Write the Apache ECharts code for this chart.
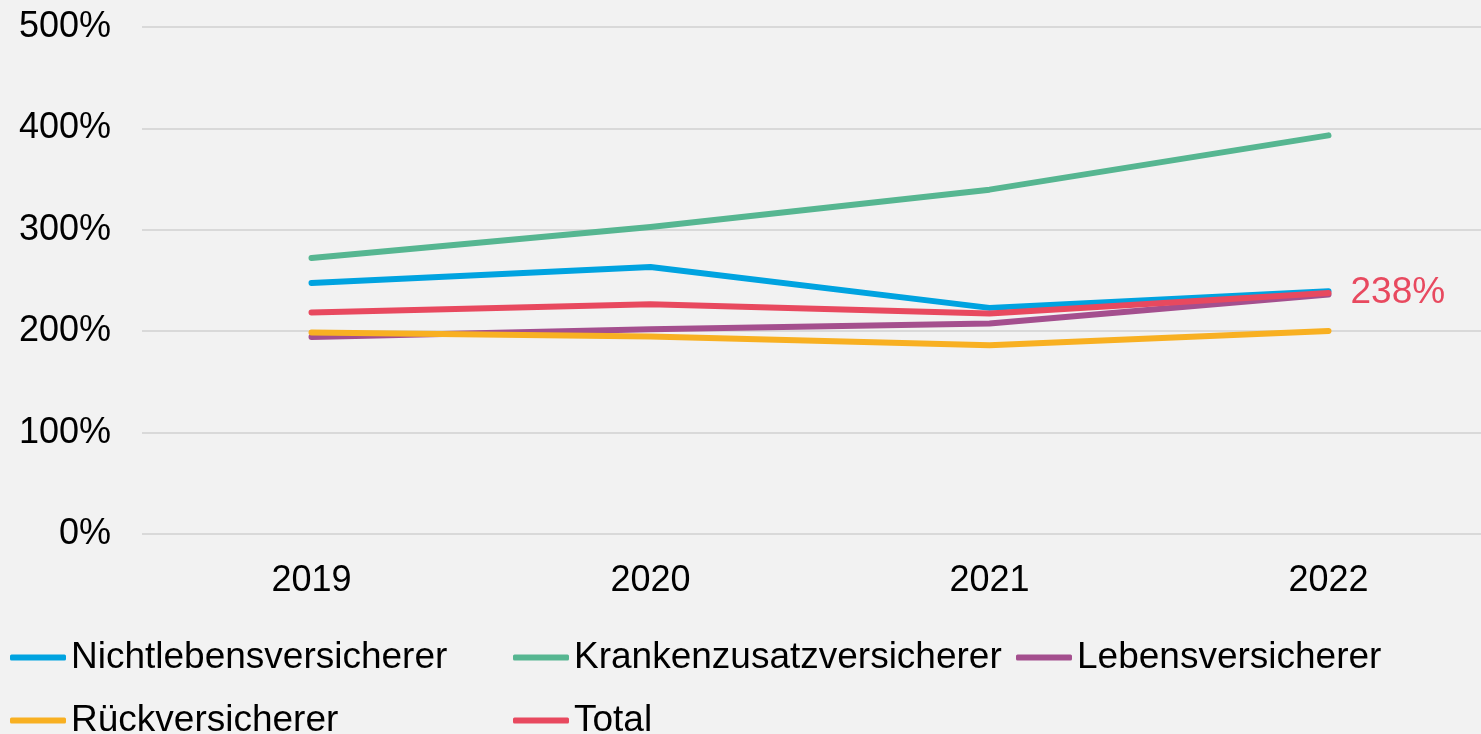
<!DOCTYPE html>
<html>
<head>
<meta charset="utf-8">
<script src="https://cdn.jsdelivr.net/npm/echarts@6/dist/echarts.min.js"></script>
<style>
  html, body { margin: 0; padding: 0; background: #f2f2f2; }
  #main { width: 1481px; height: 734px; }
</style>
</head>
<body>
<div id="main"></div>
<script>
var years = ['2019', '2020', '2021', '2022'];
var nichtleben = [247.6, 263.3, 223.0, 239.4];
var kranken = [272.2, 302.8, 339.6, 393.1];
var leben = [194.4, 202.0, 207.6, 236.2];
var rueck = [198.7, 194.8, 186.2, 200.3];
var total = [218.4, 226.6, 217.4, 237.7];

var names = ['Nichtlebensversicherer', 'Krankenzusatzversicherer', 'Lebensversicherer', 'Rückversicherer', 'Total'];
var colors = ['#00a3e0', '#56b691', '#a44f8e', '#f8b022', '#e8495f'];
var values = [nichtleben, kranken, leben, rueck, total];

var font = '"Liberation Sans", Arial, sans-serif';

var dom = document.getElementById('main');
var chart = echarts.init(dom);

// legend placed like the original: three fixed columns, two rows
var legendPos = [[10, 639], [513, 639], [1016, 639], [10, 702], [513, 702]];
var legends = names.map(function (n, i) {
    return {
        data: [n],
        left: legendPos[i][0],
        top: legendPos[i][1],
        icon: 'roundRect',
        itemWidth: 56,
        itemHeight: 6,
        padding: 0,
        textStyle: { fontFamily: font, fontSize: 37, color: '#000' }
    };
});

var series = names.map(function (n, i) {
    var s = {
        name: n,
        type: 'line',
        data: values[i],
        symbol: 'none',
        color: colors[i],
        lineStyle: { width: 6, color: colors[i], cap: 'round', join: 'round' }
    };
    if (n === 'Total') {
        s.endLabel = {
            show: true,
            distance: 22,
            color: colors[i],
            fontFamily: font,
            fontSize: 37,
            formatter: function (p) { return Math.round(p.value) + '%'; }
        };
    }
    return s;
});

var option = {
    backgroundColor: '#f2f2f2',
    animation: false,
    // plot area runs past the right edge, like the cropped original
    grid: { left: 142, width: 1356, top: 27, height: 507, outerBoundsMode: 'none' },
    legend: legends,
    xAxis: {
        type: 'category',
        data: years,
        boundaryGap: true,
        axisLine: { show: false },
        axisTick: { show: false },
        axisLabel: { fontFamily: font, fontSize: 36, color: '#000', margin: 29 }
    },
    yAxis: {
        type: 'value',
        min: 0,
        max: 500,
        interval: 100,
        axisLine: { show: false },
        axisTick: { show: false },
        splitLine: { lineStyle: { color: '#d9d9d9', width: 2 } },
        axisLabel: {
            fontFamily: font, fontSize: 36, color: '#000', margin: 31,
            padding: [4, 0, 0, 0],
            formatter: '{value}%'
        }
    },
    series: series
};

chart.setOption(option);
</script>
</body>
</html>
